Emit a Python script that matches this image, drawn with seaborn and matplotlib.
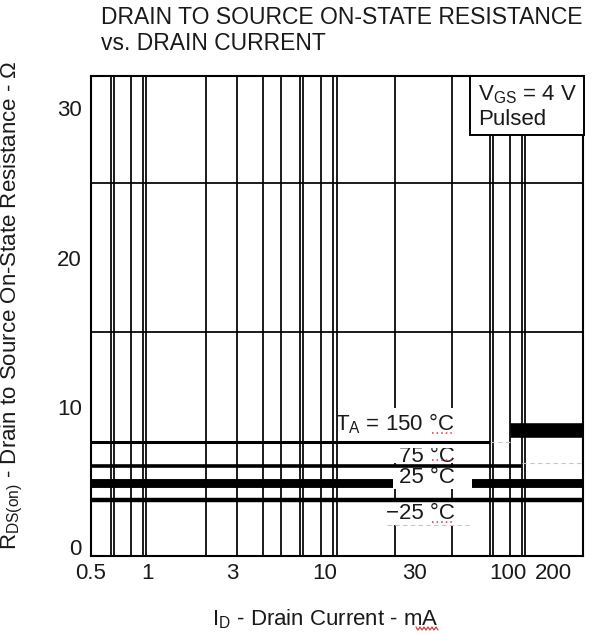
import matplotlib
matplotlib.use("Agg")
import matplotlib.pyplot as plt
import matplotlib.transforms as mtransforms
from matplotlib.lines import Line2D
from matplotlib.patches import Rectangle
from matplotlib.ticker import FixedLocator, NullFormatter
import numpy as np
import pandas as pd
import seaborn as sns

# Axis ticks
x_ticks = [0.5, 1, 3, 10, 30, 100, 200]
x_tick_labels = ["0.5", "1", "3", "10", "30", "100", "200"]
y_ticks = [0, 10, 20, 30]
y_tick_labels = ["0", "10", "20", "30"]

# Chart grid (drain current in mA, resistance in ohms)
x_grid = [0.64, 0.66, 0.81, 0.945, 0.98, 2.03, 2.97, 4.05, 5.06, 6.37, 6.58,
          8.2, 9.56, 9.96, 20.3, 30.0, 40.7, 64.4, 66.6, 82.2, 95.4, 98.3]
y_grid = [5, 10, 15, 20, 25, 30]

# RDS(on) vs ID traces
ta150_low_id = [0.5, 64.4]
ta150_low_r = [7.63, 7.63]
ta150_high_id = [82.2, 200]
ta150_high_r = [8.43, 8.43]
ta150_edge_id = [200, 200]
ta150_edge_r = [8.43, 6.2]
ta75_id = [0.5, 95.0]
ta75_r = [6.04, 6.04]
ta25_id = [0.5, 200]
ta25_r = [4.86, 4.86]
tam25_id = [0.5, 200]
tam25_r = [3.77, 3.77]

# Temperature labels
temp_labels = ["T$_{\\mathrm{A}}$ = 150 \u00b0C", "75 \u00b0C", "25 \u00b0C", "\u221225 \u00b0C"]
temp_label_r = [8.43, 6.30, 4.85, 2.45]

sns.set_theme(style="white")
plt.rcParams["font.family"] = ["Liberation Sans", "DejaVu Sans"]
plt.rcParams["mathtext.fontset"] = "custom"
plt.rcParams["mathtext.rm"] = "Liberation Sans"
plt.rcParams["mathtext.it"] = "Liberation Sans:italic"
plt.rcParams["mathtext.bf"] = "Liberation Sans:bold"

TXT = "#1a1a1a"
FS = 16
SPELL = "#d83a3a"

fig = plt.figure(figsize=(5.99, 6.35), dpi=100)
ax = fig.add_axes([91 / 599, 1 - 555.7 / 635, 492 / 599, 480 / 635])
ax.set_xscale("log")
ax.set_xlim(0.5, 200)
ax.set_ylim(0, 32.2)


def trace(xs, ys, lw, z):
    df = pd.DataFrame({"id": xs, "r": ys})
    sns.lineplot(data=df, x="id", y="r", ax=ax, color="black", linewidth=lw,
                 estimator=None, sort=False, zorder=z, legend=False)
    ax.lines[-1].set_solid_capstyle("butt")


# thick 25 degC band sits under the label boxes
trace(ta25_id, ta25_r, 6.4, 2)

# white label boxes hide grid and band
box_kw = dict(facecolor="white", edgecolor="none", zorder=3)
ax.add_patch(Rectangle((10.1, 7.7), 50.5 - 10.1, 9.9 - 7.7, **box_kw))
ax.add_patch(Rectangle((19.6, 6.22), 50.5 - 19.6, 7.56 - 6.22, **box_kw))
ax.add_patch(Rectangle((19.8, 4.45), 51.5 - 19.8, 6.0 - 4.45, **box_kw))
ax.add_patch(Rectangle((18.3, 2.06), 50.5 - 18.3, 3.6 - 2.06, **box_kw))

# faint dashed box edges
for xs, yv in [([64.4, 82.2], 7.63), ([95.0, 200], 6.2), ([18.3, 50.5], 2.06)]:
    ax.plot(xs, [yv, yv], color="#c8c8c8", lw=0.8, ls=(0, (4, 3)), zorder=3.2)

# temperature labels, right-aligned on a common edge
lab_x = 42.0
texts = []
for s, r in zip(temp_labels, temp_label_r):
    texts.append(ax.text(lab_x, r, s, ha="right", va="baseline", fontsize=FS,
                         color=TXT, zorder=3.5))
texts[1].set_clip_box(mtransforms.TransformedBbox(
    mtransforms.Bbox([[0.5, 0], [200, 7.25]]), ax.transData))
texts[1].set_clip_on(True)

# dotted proofing marks under the degree units
for r in (8.2, 6.45, 2.28):
    ax.plot([31.7, 42.0], [r, r], color=SPELL, lw=1.1, ls=(0, (1, 2)), zorder=3.6)

# thinner traces on top
trace(ta150_low_id, ta150_low_r, 2.2, 4)
trace(ta150_high_id, ta150_high_r, 10.5, 4)
trace(ta150_edge_id, ta150_edge_r, 2.2, 4)
trace(ta75_id, ta75_r, 2.6, 4)
trace(tam25_id, tam25_r, 3.2, 4)

# grid
ax.set_axisbelow(True)
ax.xaxis.set_minor_locator(FixedLocator(x_grid))
ax.xaxis.set_minor_formatter(NullFormatter())
ax.yaxis.set_minor_locator(FixedLocator(y_grid))
ax.grid(False)
ax.grid(True, which="minor", axis="both", color="black", linewidth=1.25)

ax.set_xticks(x_ticks)
ax.set_xticklabels(x_tick_labels)
ax.set_yticks(y_ticks)
ax.set_yticklabels(y_tick_labels)
ax.tick_params(axis="both", which="both", length=0, labelsize=FS, labelcolor=TXT)
ax.tick_params(axis="x", pad=5.2)
ax.tick_params(axis="y", pad=6.5)

for lab in ax.get_xticklabels():
    if lab.get_text() not in ("0.5", "1"):
        lab.set_horizontalalignment("right")
    if lab.get_text() == "200":
        lab.set_transform(lab.get_transform() +
                          mtransforms.ScaledTranslation(-0.11, 0, fig.dpi_scale_trans))
for lab in ax.get_yticklabels():
    if lab.get_text() == "0":
        lab.set_transform(lab.get_transform() +
                          mtransforms.ScaledTranslation(0, 0.085, fig.dpi_scale_trans))

for s in ax.spines.values():
    s.set_color("black")
    s.set_linewidth(1.5)

# condition box
ax.add_patch(Rectangle((0.770, 0.8765), 0.232, 0.1235, transform=ax.transAxes,
                       facecolor="white", edgecolor="black", linewidth=1.4,
                       zorder=5, clip_on=False))
ax.text(0.787, 0.949, "V$_{\\mathrm{GS}}$ = 4 V", transform=ax.transAxes,
        fontsize=FS, color=TXT, va="baseline", ha="left", zorder=6)
ax.text(0.787, 0.897, "Pulsed", transform=ax.transAxes,
        fontsize=FS, color=TXT, va="baseline", ha="left", zorder=6)

ax.set_xlabel("I$_{\\mathrm{D}}$ - Drain Current - mA", fontsize=FS, color=TXT)
ax.xaxis.set_label_coords(0.4756, -0.108)
ax.set_ylabel("R$_{\\mathrm{DS(on)}}$ - Drain to Source On-State Resistance - \u03a9",
              fontsize=FS, color=TXT)
ax.yaxis.set_label_coords(-0.1348, 0.522)

# wavy proofing mark under the unit in the x label
wx = np.linspace(416, 438, 12)
wy = 635 - np.where(np.arange(12) % 2 == 0, 627.0, 630.0)
fig.add_artist(Line2D(wx, wy, transform=None, color=SPELL, lw=0.9))

fig.text(101 / 599, 1 - 24 / 635, "DRAIN TO SOURCE ON-STATE RESISTANCE",
         fontsize=16.5, color=TXT, ha="left", va="baseline")
fig.text(101 / 599, 1 - 50 / 635, "vs. DRAIN CURRENT",
         fontsize=16.5, color=TXT, ha="left", va="baseline")

fig.savefig("out.png", dpi=100, facecolor="white")
